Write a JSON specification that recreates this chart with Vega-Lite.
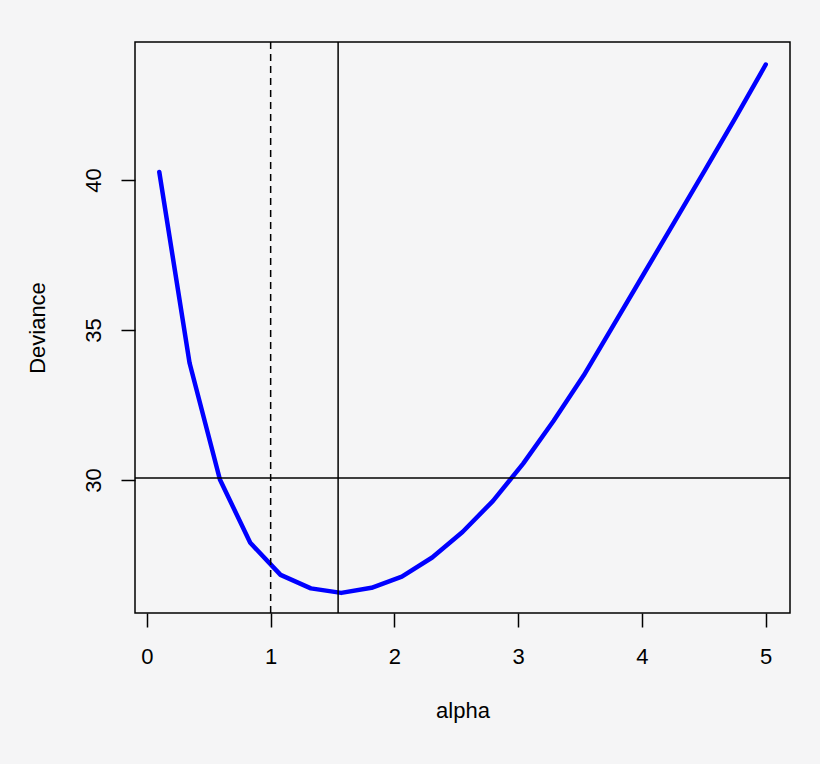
{
  "$schema": "https://vega.github.io/schema/vega-lite/v6.json",
  "description": "Deviance as a function of alpha, with reference lines.",
  "autosize": "none",
  "padding": {"left": 135, "top": 42, "right": 30, "bottom": 151},
  "width": 655,
  "height": 571,
  "background": "#f5f5f6",
  "config": {
    "view": {"stroke": "black", "strokeWidth": 1.5},
    "font": "Liberation Sans",
    "axis": {
      "domain": false,
      "grid": false,
      "ticks": true,
      "tickColor": "black",
      "tickWidth": 1.5,
      "tickSize": 14,
      "labelFont": "Liberation Sans",
      "labelFontSize": 22,
      "labelColor": "black",
      "titleFont": "Liberation Sans",
      "titleFontSize": 22,
      "titleFontWeight": "normal",
      "titleColor": "black"
    }
  },
  "datasets": {
    "curve": [
      {"alpha": 0.1, "deviance": 40.27},
      {"alpha": 0.345, "deviance": 33.9},
      {"alpha": 0.59, "deviance": 30.02},
      {"alpha": 0.835, "deviance": 27.91},
      {"alpha": 1.08, "deviance": 26.84},
      {"alpha": 1.325, "deviance": 26.39},
      {"alpha": 1.57, "deviance": 26.24},
      {"alpha": 1.815, "deviance": 26.41},
      {"alpha": 2.06, "deviance": 26.78},
      {"alpha": 2.305, "deviance": 27.42},
      {"alpha": 2.55, "deviance": 28.27},
      {"alpha": 2.795, "deviance": 29.3},
      {"alpha": 3.04, "deviance": 30.55},
      {"alpha": 3.285, "deviance": 31.97},
      {"alpha": 3.53, "deviance": 33.49},
      {"alpha": 3.775, "deviance": 35.2},
      {"alpha": 4.02, "deviance": 36.91},
      {"alpha": 4.265, "deviance": 38.62},
      {"alpha": 4.51, "deviance": 40.34},
      {"alpha": 4.755, "deviance": 42.07},
      {"alpha": 5.0, "deviance": 43.85}
    ],
    "vdashed": [{"alpha": 1}],
    "vsolid": [{"alpha": 1.545}],
    "hsolid": [{"deviance": 30.07}]
  },
  "layer": [
    {
      "data": {"name": "curve"},
      "mark": {"type": "line", "color": "#0000ff", "strokeWidth": 4.5, "strokeCap": "round", "strokeJoin": "round"},
      "encoding": {
        "x": {
          "field": "alpha",
          "type": "quantitative",
          "title": "alpha",
          "scale": {"domain": [-0.096, 5.196], "nice": false, "zero": false},
          "axis": {"values": [0, 1, 2, 3, 4, 5], "format": "d", "labelFontSize": 22, "labelPadding": 19, "titleFontSize": 22, "titlePadding": 33}
        },
        "y": {
          "field": "deviance",
          "type": "quantitative",
          "title": "Deviance",
          "scale": {"domain": [25.57, 44.6], "nice": false, "zero": false},
          "axis": {"values": [30, 35, 40], "format": "d", "labelFontSize": 22, "labelAngle": -90, "labelAlign": "center", "labelBaseline": "bottom", "labelPadding": 16, "titleFontSize": 22, "titlePadding": 33}
        }
      }
    },
    {
      "data": {"name": "vdashed"},
      "mark": {"type": "rule", "color": "black", "strokeWidth": 1.5, "strokeDash": [7, 5]},
      "encoding": {"x": {"field": "alpha", "type": "quantitative"}}
    },
    {
      "data": {"name": "vsolid"},
      "mark": {"type": "rule", "color": "black", "strokeWidth": 1.5},
      "encoding": {"x": {"field": "alpha", "type": "quantitative"}}
    },
    {
      "data": {"name": "hsolid"},
      "mark": {"type": "rule", "color": "black", "strokeWidth": 1.5},
      "encoding": {"y": {"field": "deviance", "type": "quantitative"}}
    }
  ]
}
